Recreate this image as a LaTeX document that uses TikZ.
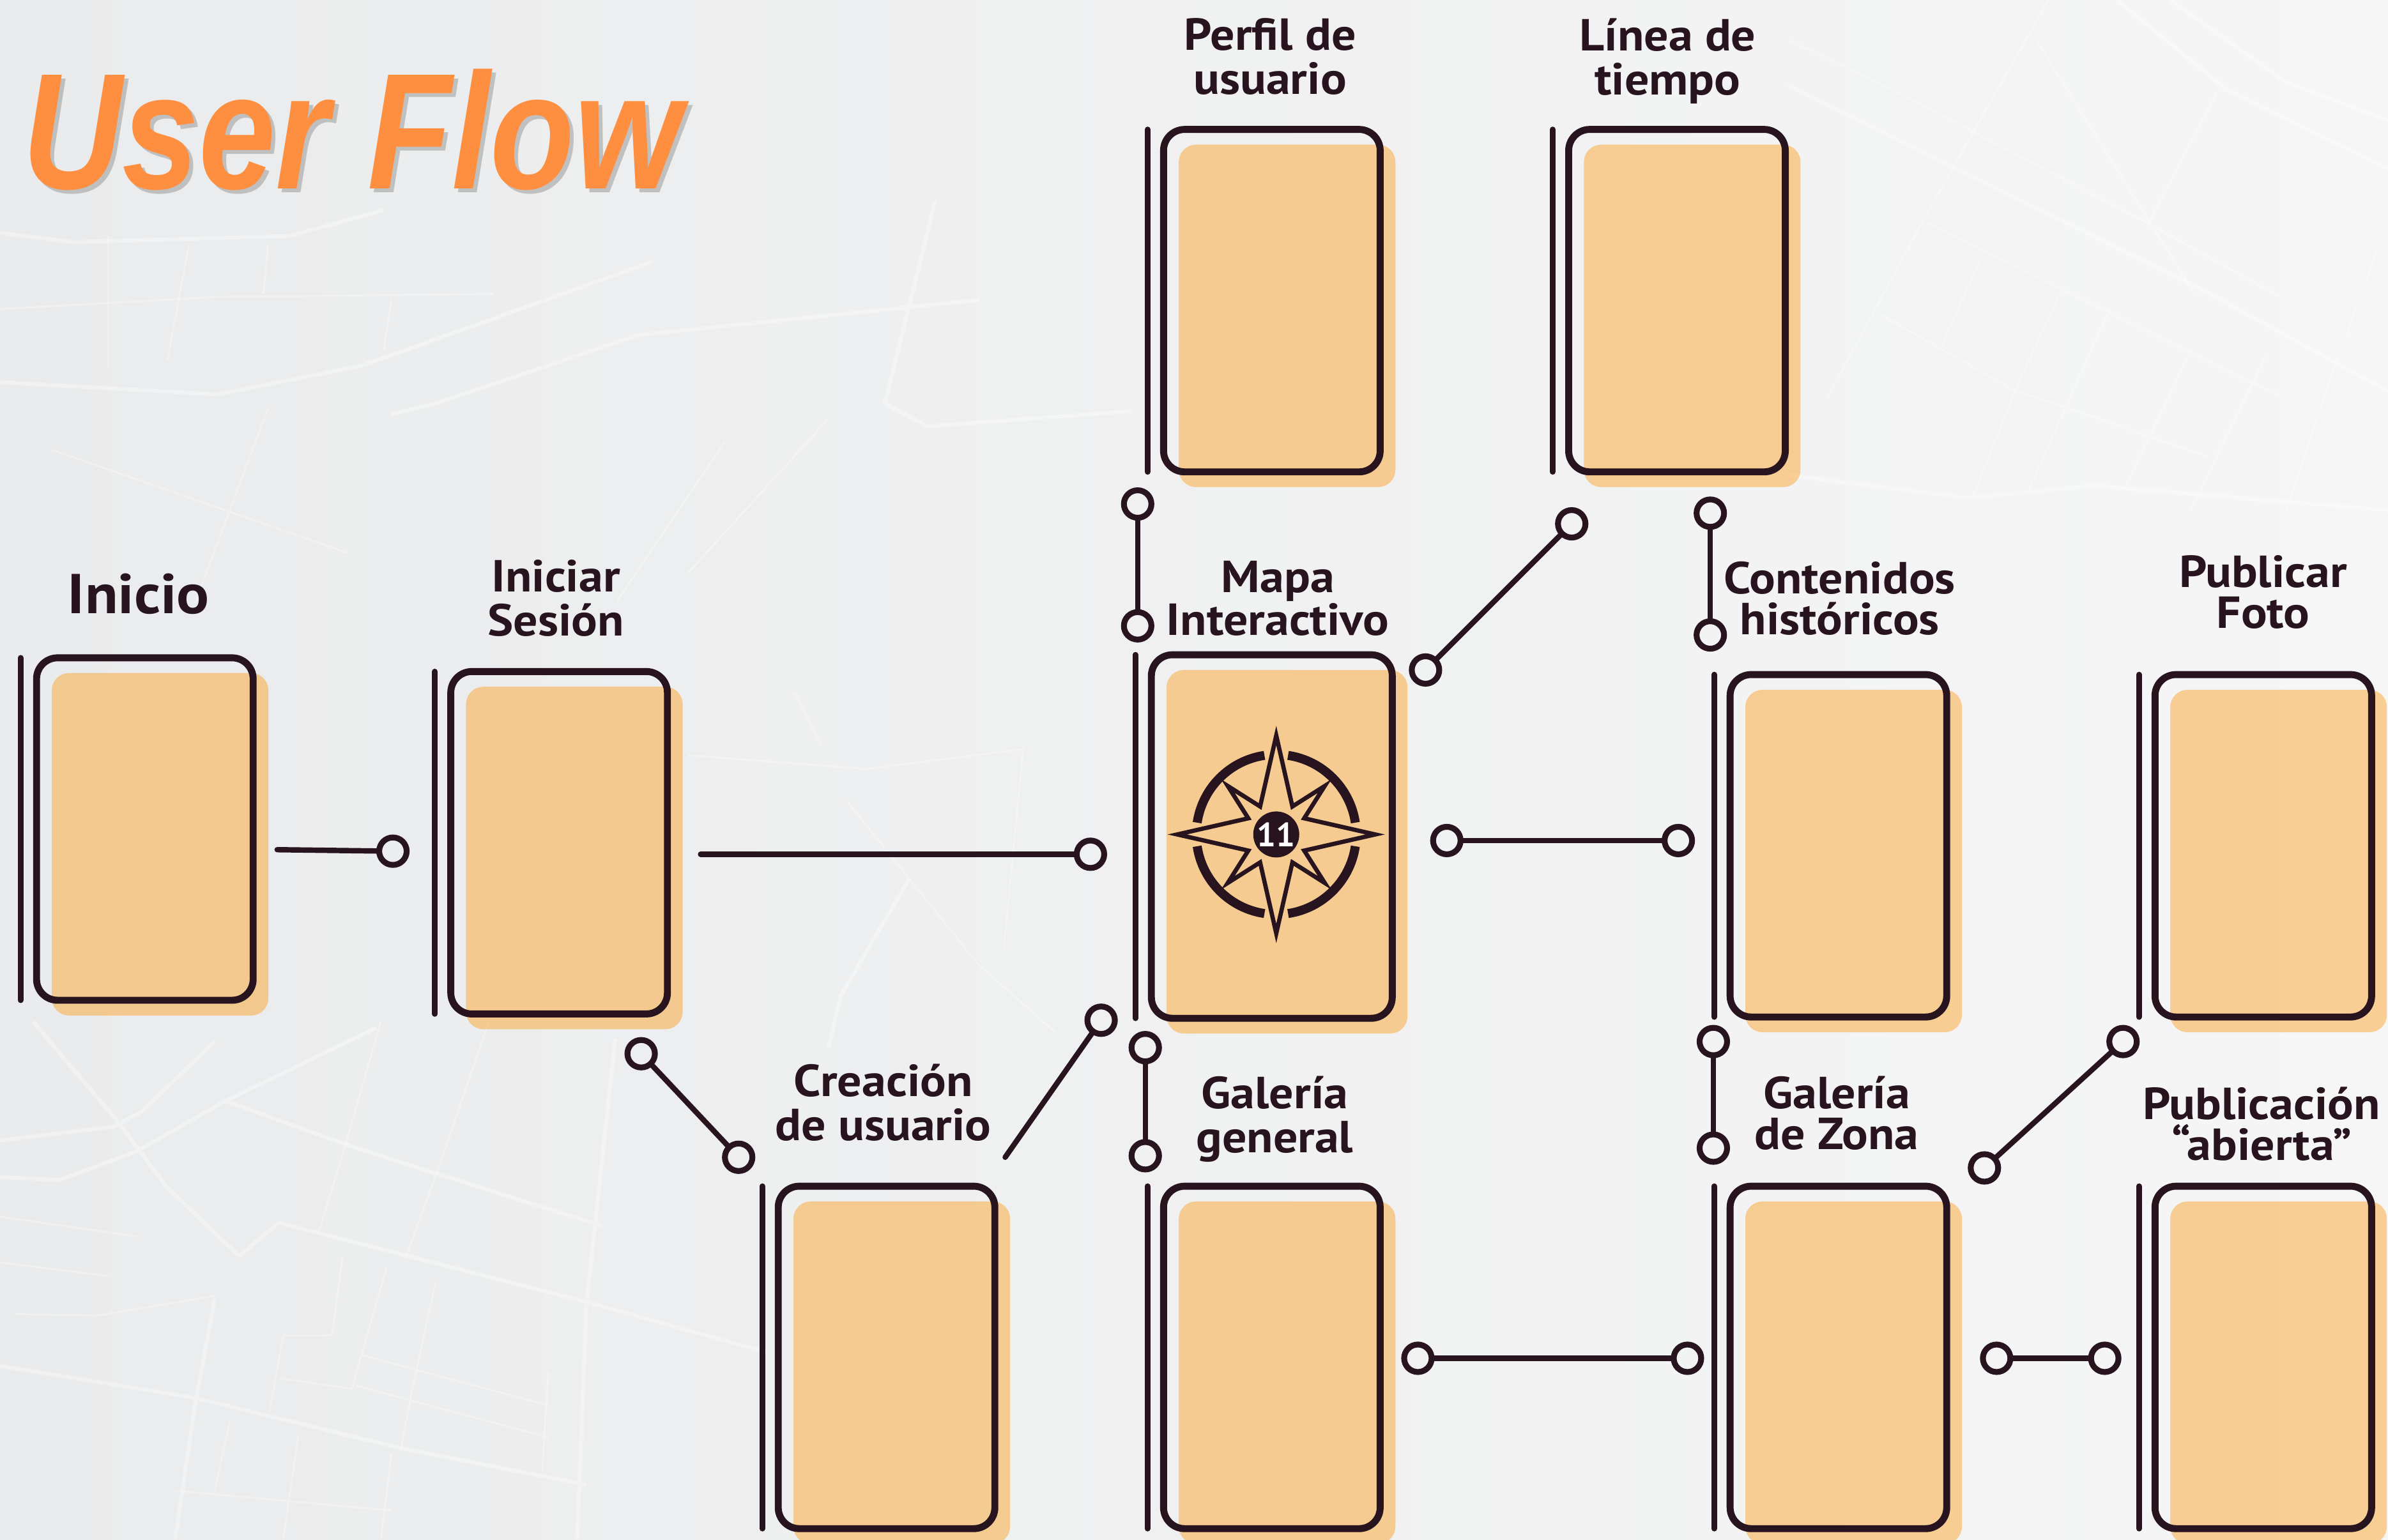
\documentclass[tikz,border=0pt]{standalone}
\usepackage{fontspec}
\setmainfont{PT Sans}
\newfontfamily\titlefont[FakeStretch=0.835]{Liberation Sans}
\newfontfamily\namefont[FakeStretch=1.08]{PT Sans}
\definecolor{ink}{HTML}{27141F}
\definecolor{cardfill}{HTML}{FD980E}
\definecolor{titleorange}{HTML}{FF8F40}
\definecolor{mapleft}{HTML}{EAEBEC}
\definecolor{mapright}{HTML}{F6F6F6}
\definecolor{titleshadow}{HTML}{8A8A8A}
\tikzset{
	framecard/.style={draw=ink,line width=3.1pt,rounded corners=.33cm,minimum width=3.39cm,minimum height=5.36cm,outer sep=0pt,inner sep=0pt},
	backcard/.style={fill=cardfill,fill opacity=.42,rounded corners=.27cm,minimum width=3.39cm,minimum height=5.36cm,outer sep=0pt,inner sep=0pt},
	rail/.style={draw=ink,line width=2.5pt,line cap=round},
	stopdot/.style={circle,draw=ink,line width=2.6pt,minimum size=.43cm,inner sep=0pt},
	wire/.style={draw=ink,line width=2.4pt,line cap=round},
	screenname/.style={text=ink,align=center,font=\namefont\bfseries\fontsize{20}{18.2}\selectfont,inner sep=0pt},
	widename/.style={screenname,font=\namefont\bfseries\fontsize{20}{19.6}\selectfont},
	road/.style={draw=white,draw opacity=.35,line width=1.8pt,line join=round},
	lane/.style={draw=white,draw opacity=.3,line width=.8pt,line join=round}
}
\newcommand\screen[4][]{
	\node[backcard,anchor=north west,#1] (#2bg) at (#3+11,#4+11) {};
	\node[framecard,anchor=north west,#1] (#2) at (#3+1,#4+1) {};
	\draw[rail] ([xshift=-.25cm]#2.north west)--([xshift=-.25cm]#2.south west);
}
\begin{document}
\begin{tikzpicture}[x=.02384cm,y=-.02384cm]
\useasboundingbox (0,0) rectangle (1568,1011.35);
\shade[left color=mapleft,right color=mapright] (0,0) rectangle (1568,1011.35);
\draw[road]
	(0,749)--(74,740)--(93,730)--(141,684)
	(22,671)--(42,695)--(77,736)--(109,779)--(157,825)
	(0,773)--(39,775)--(90,756)--(148,723)--(247,675)
	(148,723)--(231,753)--(395,805)
	(157,825)--(183,803)--(385,855)--(503,888)
	(0,897)--(128,918)--(263,951)--(385,975)
	(141,853)--(128,923)--(115,1011)
	(404,682)--(385,857)--(379,1011)
	(0,153)--(48,159)--(190,155)--(252,138)
	(0,251)--(143,259)--(238,240)--(428,172)
	(257,272)--(286,265)--(419,220)--(643,197)
	(614,132)--(581,265)--(609,280)--(743,270)
	(597,577)--(552,654)--(544,688)
	(1174,56)--(1285,111)--(1451,193)--(1568,257)
	(1390,0)--(1461,58)--(1568,111)
	(1425,0)--(1501,54)--(1568,79)
	(1174,312)--(1292,327)--(1375,319)--(1568,335);
\draw[lane]
	(0,799)--(90,812)
	(0,829)--(71,838)
	(10,863)--(64,864)--(141,851)
	(321,671)--(289,764)--(266,827)
	(250,671)--(225,758)--(209,810)
	(225,825)--(218,877)--(186,877)--(177,927)
	(254,832)--(231,912)--(183,905)
	(234,910)--(360,944)
	(360,901)--(356,966)
	(238,890)--(360,923)
	(286,842)--(270,916)--(263,953)
	(151,933)--(141,979)
	(196,942)--(186,1011)
	(257,955)--(250,1011)
	(115,979)--(257,992)
	(0,203)--(143,195)--(324,193)
	(33,295)--(228,363)
	(176,268)--(128,396)
	(476,290)--(405,395)
	(543,276)--(452,376)
	(71,155)--(71,241)
	(124,161)--(110,236)
	(176,161)--(173,193)
	(257,197)--(252,230)
	(522,455)--(539,489)
	(556,526)--(642,633)--(693,678)
	(452,496)--(569,505)--(672,492)
	(672,490)--(659,624)
	(1174,26)--(1245,60)--(1413,148)--(1551,225)
	(1345,0)--(1262,146)--(1200,261)
	(1338,28)--(1413,148)--(1441,193)
	(1456,60)--(1410,148)
	(1265,146)--(1350,188)--(1476,250)--(1536,278)
	(1355,188)--(1325,252)--(1295,327)
	(1385,203)--(1330,327)
	(1232,205)--(1320,255)--(1450,300)
	(1488,233)--(1438,336)
	(1438,231)--(1395,321)
	(1566,150)--(1531,246)--(1501,336)
	(1300,171)--(1275,227);
\node[text=titleshadow,text opacity=.45,anchor=base west,font=\titlefont\bfseries\itshape\fontsize{73.6}{80}\selectfont,inner sep=0pt] (titleshade) at (17,126.5) {User Flow};
\node[text=titleorange,anchor=base west,font=\titlefont\bfseries\itshape\fontsize{73.6}{80}\selectfont,inner sep=0pt] (title) at (14.5,124) {User Flow};
\screen{inicio}{23}{431}
\screen{sesion}{295}{440}
\screen{creacion}{510}{778}
\screen{perfil}{763}{84}
\screen{linea}{1029}{84}
\screen[minimum width=3.77cm,minimum height=5.69cm]{mapa}{755}{429}
\screen{contenidos}{1135}{442}
\screen{foto}{1414}{442}
\screen{galeria}{763}{778}
\screen{zona}{1135}{778}
\screen{abierta}{1414}{778}
\node[screenname,font=\namefont\bfseries\fontsize{25}{28}\selectfont] (inicioname) at (91,390) {Inicio};
\node[widename] (sesionname) at (365,393) {Iniciar\\Sesión};
\node[widename] (creacionname) at (580,724) {Creación\\de usuario};
\node[widename] (perfilname) at (834,37) {Perfil de\\usuario};
\node[widename] (lineaname) at (1095,40) {Línea de\\tiempo};
\node[screenname] (mapaname) at (839,393) {Mapa\\Interactivo};
\node[screenname] (contenidosname) at (1208,393) {Contenidos\\históricos};
\node[screenname] (fotoname) at (1486,389) {Publicar\\Foto};
\node[widename] (galerianame) at (837,735) {Galería\\general};
\node[screenname] (zonaname) at (1206,731) {Galería\\de Zona};
\node[screenname] (abiertaname) at (1485,738) {Publicación\\“abierta”};
\begin{scope}[shift={(838,548)}]
\foreach \a in {45,135,225,315}
	\draw[ink,line width=4pt] ({\a-36.5}:52.5) arc[start angle={\a-36.5},end angle={\a+36.5},radius=52.5];
\draw[ink,line width=1.9pt,miter limit=20] (0:65)
	\foreach \a in {0,90,180,270}{--({\a+30}:21.2)--({\a+45}:45)--({\a+60}:21.2)--({\a+90}:65)}
	--cycle;
\node[circle,fill=ink,text=white,minimum size=.72cm,inner sep=0pt,font=\bfseries\fontsize{15}{15}\selectfont] (brujula) at (0,0) {11};
\end{scope}
\coordinate (iniciofree) at (182,558);
\coordinate (sesionfree) at (460,561);
\coordinate (creacionfree) at (660,760);
\node[stopdot] (iniciostop) at (258,559) {};
\node[stopdot] (sesionstop) at (716,561) {};
\node[stopdot] (sesiondown) at (421,692) {};
\node[stopdot] (creaciontop) at (485,760) {};
\node[stopdot] (creacionstop) at (723,670) {};
\node[stopdot] (mapatop) at (747,411) {};
\node[stopdot] (perfilstop) at (747,331) {};
\node[stopdot] (mapacorner) at (936,440) {};
\node[stopdot] (lineadiag) at (1032,344) {};
\node[stopdot] (mapaside) at (950,552) {};
\node[stopdot] (contenidosside) at (1102,552) {};
\node[stopdot] (contenidostop) at (1123,417) {};
\node[stopdot] (lineastop) at (1123,337) {};
\node[stopdot] (mapadown) at (752,688) {};
\node[stopdot] (galeriatop) at (752,759) {};
\node[stopdot] (galeriaside) at (931,892) {};
\node[stopdot] (zonaside) at (1108,892) {};
\node[stopdot] (contenidosdown) at (1125,684) {};
\node[stopdot] (zonatop) at (1125,754) {};
\node[stopdot] (zonaright) at (1311,892) {};
\node[stopdot] (abiertaside) at (1382,892) {};
\node[stopdot] (zonacorner) at (1303,767) {};
\node[stopdot] (fotostop) at (1394,684) {};
\draw[wire] (iniciofree)--(iniciostop);
\draw[wire] (sesionfree)--(sesionstop);
\draw[wire] (sesiondown)--(creaciontop);
\draw[wire] (creacionfree)--(creacionstop);
\draw[wire] (mapatop)--(perfilstop);
\draw[wire] (mapacorner)--(lineadiag);
\draw[wire] (mapaside)--(contenidosside);
\draw[wire] (contenidostop)--(lineastop);
\draw[wire] (mapadown)--(galeriatop);
\draw[wire] (galeriaside)--(zonaside);
\draw[wire] (contenidosdown)--(zonatop);
\draw[wire] (zonaright)--(abiertaside);
\draw[wire] (zonacorner)--(fotostop);
\end{tikzpicture}
\end{document}
